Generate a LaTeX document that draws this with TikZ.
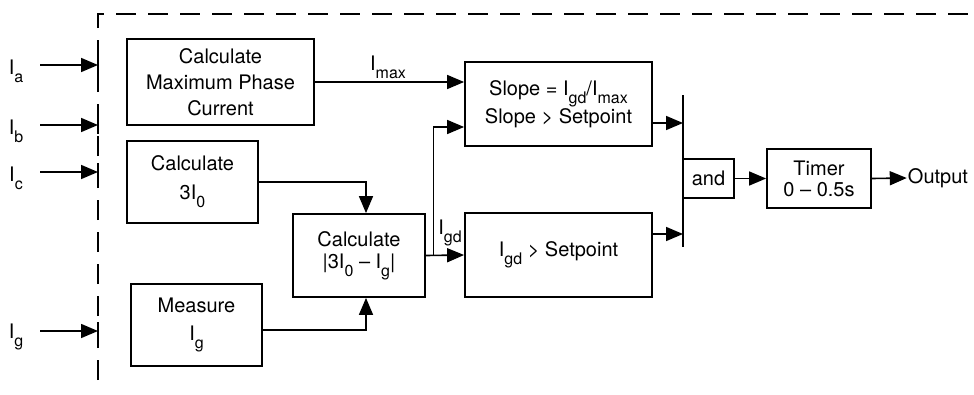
\documentclass[tikz,border=0pt]{standalone}
\usepackage{fontspec}
\setmainfont{TeX Gyre Heros}
\usetikzlibrary{positioning,arrows.meta,calc}
\newcommand{\sbs}[1]{\raisebox{-0.75ex}{\fontsize{16}{16}\selectfont #1}}
\tikzset{
  flowarrow/.style={-{Triangle[length=17pt,width=14pt]}, line width=1.6pt},
  blockbox/.style={draw, line width=1.8pt, inner sep=2pt, align=center},
  borderline/.style={line width=1.8pt, dash pattern=on 20pt off 12pt},
  barline/.style={line width=2.6pt},
  siglabel/.style={inner sep=1pt}
}

\begin{document}
\begin{tikzpicture}[x=1pt, y=-1pt, every node/.style={font=\fontsize{20}{26}\selectfont}]
  \useasboundingbox (0,0) rectangle (974,394);
  \draw[borderline] (98,380) -- (98,14) -- (974,14);
  % inputs
  \foreach \nm/\yy in {a/65,b/125,c/172,g/331}{
    \node[siglabel] (lab\nm) at (16,\yy+6) {I\sbs{\nm}};
    \coordinate (in\nm) at (40,\yy);
    \coordinate (end\nm) at (98,\yy);
    \draw[flowarrow] (in\nm) -- (end\nm);
    \draw[line width=1.8pt] ([yshift=9pt]end\nm) -- ([yshift=-9pt]end\nm);
  }
  % blocks
  \node[blockbox, minimum width=187pt, minimum height=86pt] (maxb) at (220.5,82) {Calculate\\Maximum Phase\\Current};
  \node[blockbox, minimum width=131pt, minimum height=82pt] (zerob) at (192.5,182) {Calculate\\[3pt]3I\sbs{0}};
  \node[blockbox, minimum width=131pt, minimum height=82pt] (measb) at (196.5,325) {Measure\\[2pt]I\sbs{g}};
  \node[blockbox, minimum width=132pt, minimum height=83pt] (diffb) at (359,255.5) {Calculate\\[-4pt]|3I\sbs{0} -- I\sbs{g}|};
  \node[blockbox, minimum width=187pt, minimum height=84pt] (slopeb) at (558.5,104) {Slope = I\sbs{gd}/I\sbs{max}\\[1pt]Slope > Setpoint};
  \node[blockbox, minimum width=187pt, minimum height=84pt] (gdb) at (558.5,255) {I\sbs{gd} > Setpoint};
  \coordinate (bart) at (683,95);
  \coordinate (barb) at (683,247);
  \draw[barline] (bart) -- (barb);
  \node[blockbox, minimum width=51pt, minimum height=39pt] (andb) at (708.5,178.5) {and};
  \node[blockbox, minimum width=104pt, minimum height=59pt] (timerb) at (819,178.5) {Timer\\[-5pt]0 -- 0.5s};
  \node[siglabel] (outl) at (938,178) {Output};
  % signals
  \node[siglabel] (imax) at (388,67) {I\sbs{max}};
  \node[siglabel] (igd) at (450,233) {I\sbs{gd}};
  \coordinate (brk) at ($(diffb.east)!0.2!(gdb.west)$);
  \draw[flowarrow] (maxb.east) -- (maxb.east -| slopeb.west);
  \draw[flowarrow] (zerob.east) -| ([xshift=7pt]diffb.north);
  \draw[flowarrow] ([yshift=-5pt]measb.east) -| ([xshift=7pt]diffb.south);
  \draw[flowarrow] (diffb.east) -- (gdb.west);
  \draw[flowarrow] (brk) |- ([yshift=-23pt]slopeb.west);
  \draw[flowarrow] ([yshift=-19pt]slopeb.east) -- ([yshift=-19pt]slopeb.east -| bart);
  \draw[flowarrow] ([yshift=21pt]gdb.east) -- ([yshift=21pt]gdb.east -| bart);
  \draw[flowarrow] (andb.east) -- (timerb.west);
  \draw[flowarrow] (timerb.east) -- (outl.west);
\end{tikzpicture}
\end{document}
